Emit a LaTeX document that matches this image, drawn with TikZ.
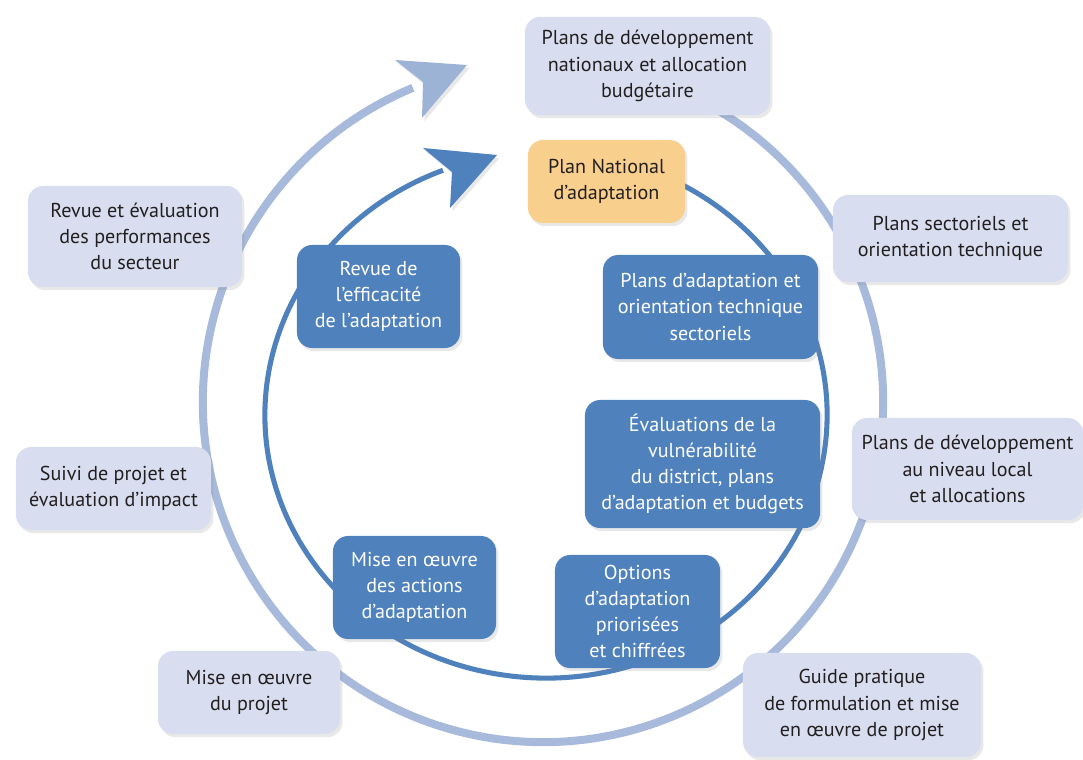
\documentclass[tikz,border=0pt]{standalone}
\usepackage{fontspec}
\setmainfont{PT Sans}
\usetikzlibrary{positioning,shapes,shadows,backgrounds}

\definecolor{lightbox}{HTML}{D8DEEF}
\definecolor{outerline}{HTML}{A8BADC}
\definecolor{outerhead}{HTML}{9CB3D5}
\definecolor{darkblue}{HTML}{4F81BD}
\definecolor{pnaorange}{HTML}{F9CF8E}
\definecolor{textgrey}{HTML}{231F20}

\tikzset{
  box/.style={rounded corners=0.38cm, align=center, inner sep=2pt,
    font=\fontsize{14.3}{18.6}\selectfont,
    drop shadow={opacity=0.18, shadow xshift=0.06cm, shadow yshift=-0.08cm}},
  outerbox/.style={box, fill=lightbox, text=textgrey},
  innerbox/.style={box, fill=darkblue, text=white},
  pnabox/.style={box, fill=pnaorange, text=textgrey},
}

\begin{document}
\begin{tikzpicture}[x=0.025cm, y=0.025cm]
	\useasboundingbox (0,0) rectangle (1083,759);

		\node[outerbox, minimum width=6.125cm, minimum height=2.45cm] (nat) at (647.5,693) {Plans de développement\\nationaux et allocation\\budgétaire};
		\node[pnabox, minimum width=3.925cm, minimum height=2.075cm] (pna) at (606.5,577.5) {Plan National\\d’adaptation};
		\node[outerbox, minimum width=5.875cm, minimum height=2.175cm] (sect) at (950.5,520.5) {Plans sectoriels et\\orientation technique};
		\node[outerbox, minimum width=5.775cm, minimum height=2.55cm] (local) at (967.5,290) {Plans de développement\\au niveau local\\et allocations};
		\node[outerbox, minimum width=5.95cm, minimum height=2.6cm] (guide) at (862,54) {Guide pratique\\de formulation et mise\\en œuvre de projet};
		\node[outerbox, minimum width=4.55cm, minimum height=2.075cm] (projet) at (249,66.5) {Mise en œuvre\\du projet};
		\node[outerbox, minimum width=4.875cm, minimum height=2.075cm] (suivi) at (113.5,270.5) {Suivi de projet et\\évaluation d’impact};
		\node[outerbox, minimum width=5.35cm, minimum height=2.525cm] (perf) at (135,522.5) {Revue et évaluation\\des performances\\du secteur};

		\node[innerbox, minimum width=4.075cm, minimum height=2.575cm] (effic) at (378.5,462.5) {Revue de\\l’efficacité\\de l’adaptation};
		\node[innerbox, minimum width=5.375cm, minimum height=2.6cm] (secadapt) at (710.5,452) {Plans d’adaptation et\\orientation technique\\sectoriels};
		\node[innerbox, minimum width=5.875cm, minimum height=3.2cm] (vuln) at (702.5,295) {Évaluations de la\\vulnérabilité\\du district, plans\\d’adaptation et budgets};
		\node[innerbox, minimum width=4.125cm, minimum height=2.825cm] (options) at (637.5,147.5) {Options\\d’adaptation\\priorisées\\et chiffrées};
		\node[innerbox, minimum width=4.075cm, minimum height=2.575cm] (actions) at (414.5,171.5) {Mise en œuvre\\des actions\\d’adaptation};

		\coordinate (outerc) at (543,357);
		\coordinate (innerc) at (546,344);

		\begin{scope}[on background layer]
		\draw[outerline, line width=5.7pt] (outerc) ++(75:8.5cm) arc[start angle=75, end angle=-247.5, radius=8.5cm];
		\draw[darkblue, line width=3.6pt] (innerc) ++(7.025cm*cos 80, 6.575cm*sin 80) arc[start angle=80, end angle=-248.5, x radius=7.025cm, y radius=6.575cm];
		\end{scope}

		\fill[outerhead, drop shadow={opacity=0.18, shadow xshift=0.06cm, shadow yshift=-0.08cm}] (395,699) -- (467,694) -- (422,641) -- (423,677) -- cycle;
		\fill[darkblue, drop shadow={opacity=0.18, shadow xshift=0.06cm, shadow yshift=-0.08cm}] (423,611) -- (497,604) -- (450,551) -- (452,587) -- cycle;
	\end{tikzpicture}
\end{document}
